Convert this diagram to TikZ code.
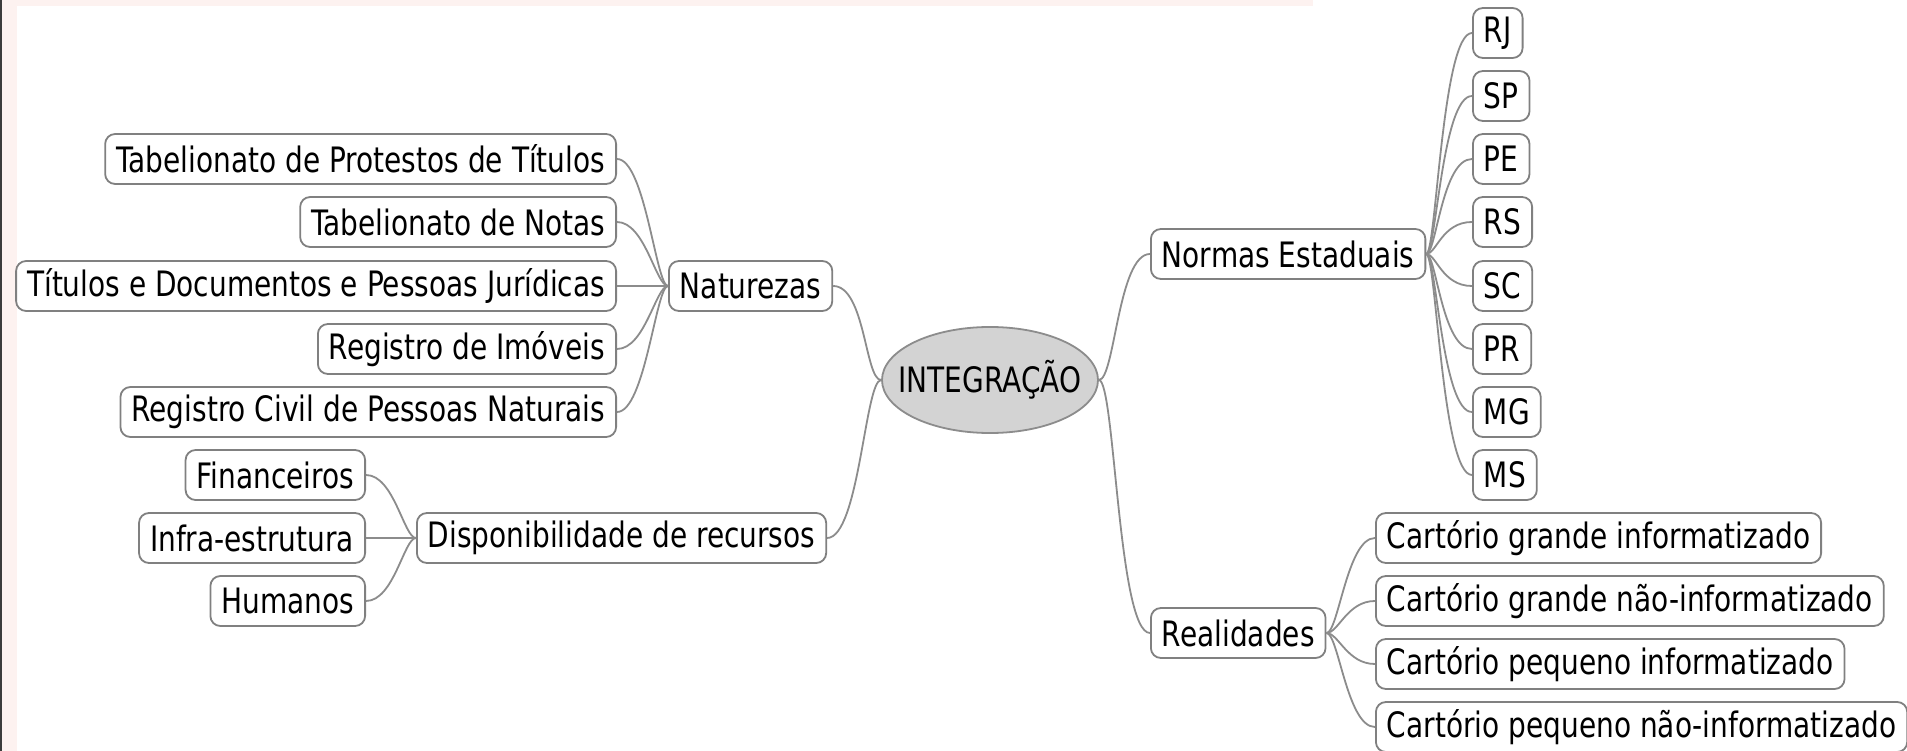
\documentclass[tikz,border=0pt]{standalone}
\usepackage{fontspec}
\setmainfont{DejaVu Sans}[FakeStretch=0.8]
\usetikzlibrary{shapes.geometric}
\definecolor{nodegray}{RGB}{128,128,128}
\definecolor{edgegray}{RGB}{140,140,140}
\definecolor{ellfill}{RGB}{211,211,211}
\definecolor{pinkbg}{RGB}{253,242,240}
\definecolor{darkline}{RGB}{60,60,60}
\newcommand\mapfont{\fontsize{35}{42}\selectfont}
\tikzset{
  box/.style={draw=nodegray, line width=1.8pt, rounded corners=10pt, fill=white,
    minimum height=50pt, inner xsep=11pt, inner ysep=0pt, font=\mapfont},
  lbox/.style={box, anchor=east},
  rbox/.style={box, anchor=west},
  edge/.style={draw=edgegray, line width=1.8pt},
  centre/.style={ellipse, draw=edgegray, line width=1.8pt, fill=ellfill,
    minimum width=216pt, minimum height=105pt, inner xsep=-22pt, inner ysep=18pt, font=\mapfont},
}
\begin{document}
\begin{tikzpicture}[x=1pt,y=-1pt]
\useasboundingbox (0,0) rectangle (1907,751);
\fill[white] (0,0) rectangle (1907,751);
\fill[pinkbg] (0,0) rectangle (17,751);
\fill[pinkbg] (0,0) rectangle (1313,6);
\fill[darkline] (0,0) rectangle (2,751);

% central node
\node[centre] (int) at (990,380) {INTEGRAÇÃO};

% left branch: Naturezas
\node[rbox] (nat) at (668,286) {Naturezas};
\node[lbox] (n1) at (617,159) {Tabelionato de Protestos de Títulos};
\node[lbox] (n2) at (617,222) {Tabelionato de Notas};
\node[lbox] (n3) at (617,286) {Títulos e Documentos e Pessoas Jurídicas};
\node[lbox] (n4) at (617,349) {Registro de Imóveis};
\node[lbox] (n5) at (617,412) {Registro Civil de Pessoas Naturais};

% left branch: Disponibilidade
\node[rbox] (disp) at (416,538) {Disponibilidade de recursos};
\node[lbox] (d1) at (366,475) {Financeiros};
\node[lbox] (d2) at (366,538) {Infra-estrutura};
\node[lbox] (d3) at (366,601) {Humanos};

% right branch: Normas
\node[rbox] (norm) at (1150,254) {Normas Estaduais};
\node[rbox] (s1) at (1472,33) {RJ};
\node[rbox] (s2) at (1472,96) {SP};
\node[rbox] (s3) at (1472,159) {PE};
\node[rbox] (s4) at (1472,222) {RS};
\node[rbox] (s5) at (1472,286) {SC};
\node[rbox] (s6) at (1472,349) {PR};
\node[rbox] (s7) at (1472,412) {MG};
\node[rbox] (s8) at (1472,475) {MS};

% right branch: Realidades
\node[rbox] (real) at (1150,633) {Realidades};
\node[rbox] (r1) at (1375,538) {Cartório grande informatizado};
\node[rbox] (r2) at (1375,601) {Cartório grande não-informatizado};
\node[rbox] (r3) at (1375,664) {Cartório pequeno informatizado};
\node[rbox] (r4) at (1375,727) {Cartório pequeno não-informatizado};

% edges from centre
\draw[edge] (int.west) .. controls +(-16,0) and +(32,0) .. (nat.east);
\draw[edge] (int.west) .. controls +(-16,0) and +(32,0) .. (disp.east);
\draw[edge] (int.east) .. controls +(16,0) and +(-32,0) .. (norm.west);
\draw[edge] (int.east) .. controls +(16,0) and +(-32,0) .. (real.west);

% Naturezas children
\foreach \c in {n1,n2,n3,n4,n5}
  \draw[edge] (nat.west) .. controls +(-12,0) and +(28,0) .. (\c.east);
% Disponibilidade children
\foreach \c in {d1,d2,d3}
  \draw[edge] (disp.west) .. controls +(-12,0) and +(28,0) .. (\c.east);
% Normas children
\foreach \c in {s1,s2,s3,s4,s5,s6,s7,s8}
  \draw[edge] (norm.east) .. controls +(10,0) and +(-30,0) .. (\c.west);
% Realidades children
\foreach \c in {r1,r2,r3,r4}
  \draw[edge] (real.east) .. controls +(12,0) and +(-28,0) .. (\c.west);
\end{tikzpicture}
\end{document}
